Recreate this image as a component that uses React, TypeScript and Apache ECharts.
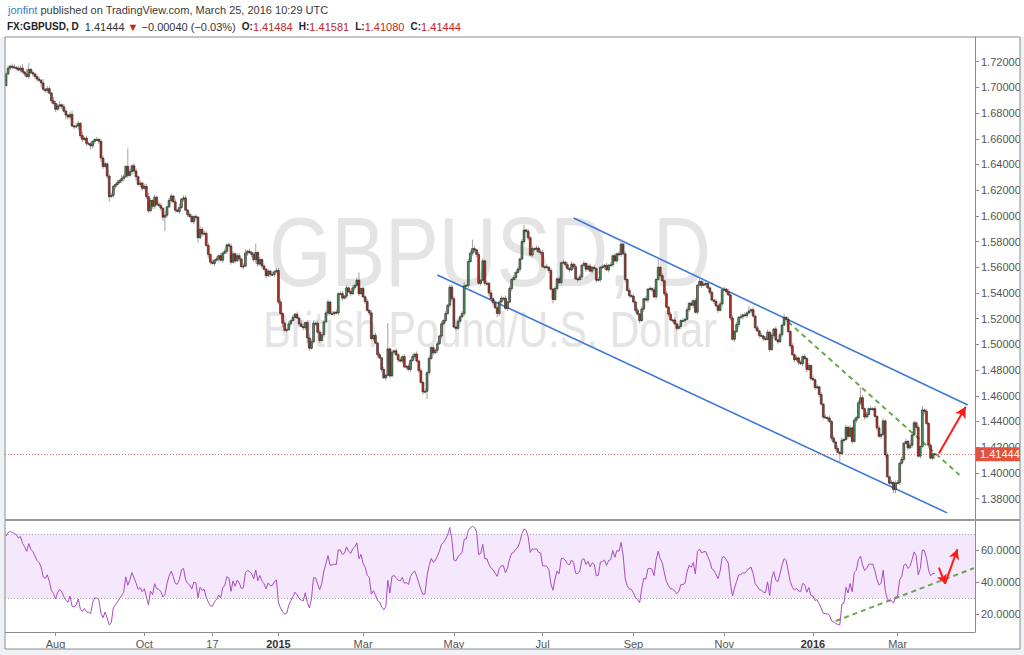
import React, { useEffect, useRef } from "react";
import * as echarts from "echarts";

// ---------- DATA (daily closes, GBPUSD) ----------
const firstOpen = 1.7015;
const rsiWarmupJun2014 = [1.686, 1.682, 1.686, 1.697, 1.6935, 1.6965, 1.7, 1.6975, 1.701, 1.696, 1.7005, 1.6975, 1.7015, 1.699];

const closesJun2014 = [1.7105];
const closesJul2014 = [1.715, 1.7165, 1.716, 1.7155, 1.715, 1.7135, 1.715, 1.712, 1.7105, 1.7085, 1.714, 1.7115, 1.7105, 1.7085, 1.7065, 1.7055, 1.7035, 1.6985, 1.6975, 1.699, 1.6955, 1.6895, 1.6875];
const closesAug2014 = [1.683, 1.6855, 1.6865, 1.685, 1.6815, 1.6785, 1.677, 1.679, 1.67, 1.6695, 1.67, 1.672, 1.6625, 1.6595, 1.6605, 1.6565, 1.656, 1.6545, 1.658, 1.6595, 1.6595];
const closesSep2014 = [1.658, 1.645, 1.6385, 1.6405, 1.631, 1.615, 1.616, 1.623, 1.6245, 1.626, 1.6275, 1.629, 1.6305, 1.6385, 1.6315, 1.6345, 1.639, 1.635, 1.6305, 1.6245, 1.6255, 1.6215];
const closesOct2014 = [1.623, 1.615, 1.604, 1.612, 1.6075, 1.6145, 1.609, 1.608, 1.606, 1.599, 1.6005, 1.607, 1.612, 1.6155, 1.611, 1.6045, 1.6035, 1.6065, 1.613, 1.614, 1.6045, 1.601, 1.5995];
const closesNov2014 = [1.5955, 1.5995, 1.599, 1.583, 1.5895, 1.586, 1.5865, 1.577, 1.57, 1.564, 1.563, 1.5655, 1.5665, 1.569, 1.5655, 1.571, 1.5725, 1.5775, 1.5765, 1.564];
const closesDec2014 = [1.5705, 1.565, 1.569, 1.5665, 1.5605, 1.561, 1.571, 1.5725, 1.5715, 1.57, 1.566, 1.5715, 1.5625, 1.566, 1.561, 1.5585, 1.5535, 1.557, 1.5545, 1.5545, 1.5565, 1.5575];
const closesJan2015 = [1.533, 1.524, 1.5165, 1.511, 1.5115, 1.516, 1.5185, 1.521, 1.5235, 1.5205, 1.516, 1.514, 1.513, 1.517, 1.505, 1.497, 1.502, 1.5165, 1.5165, 1.5095, 1.503];
const closesFeb2015 = [1.5075, 1.5175, 1.5245, 1.533, 1.524, 1.524, 1.525, 1.5245, 1.5395, 1.5395, 1.536, 1.5375, 1.544, 1.541, 1.5395, 1.544, 1.546, 1.55, 1.5395, 1.5435];
const closesMar2015 = [1.537, 1.5335, 1.5265, 1.5245, 1.5045, 1.507, 1.501, 1.492, 1.4895, 1.4805, 1.474, 1.476, 1.4965, 1.4755, 1.494, 1.495, 1.492, 1.488, 1.487, 1.4905, 1.4825, 1.483];
const closesApr2015 = [1.4805, 1.4875, 1.4905, 1.4925, 1.487, 1.4795, 1.4705, 1.463, 1.4635, 1.478, 1.489, 1.4975, 1.4935, 1.4955, 1.5005, 1.5065, 1.516, 1.5185, 1.524, 1.5305, 1.5445, 1.5355];
const closesMay2015 = [1.5135, 1.5125, 1.518, 1.5215, 1.524, 1.5455, 1.546, 1.5645, 1.571, 1.5745, 1.5735, 1.57, 1.5475, 1.55, 1.565, 1.5475, 1.5475, 1.54, 1.5355, 1.5325, 1.5285];
const closesJun2015 = [1.524, 1.533, 1.536, 1.536, 1.528, 1.533, 1.5435, 1.5505, 1.552, 1.556, 1.5585, 1.5665, 1.58, 1.589, 1.588, 1.583, 1.5695, 1.5745, 1.574, 1.575, 1.572, 1.5715];
const closesJul2015 = [1.5605, 1.5605, 1.56, 1.5575, 1.543, 1.535, 1.5435, 1.551, 1.548, 1.5635, 1.564, 1.562, 1.559, 1.558, 1.5625, 1.5605, 1.551, 1.5505, 1.5525, 1.5615, 1.563, 1.5585, 1.561];
const closesAug2015 = [1.557, 1.56, 1.559, 1.55, 1.5505, 1.56, 1.5605, 1.5615, 1.558, 1.5615, 1.562, 1.569, 1.565, 1.5705, 1.57, 1.578, 1.5705, 1.5505, 1.542, 1.538, 1.5375];
const closesSep2015 = [1.533, 1.5265, 1.5235, 1.5185, 1.5275, 1.5355, 1.5345, 1.543, 1.5435, 1.5425, 1.537, 1.5505, 1.56, 1.5535, 1.5495, 1.5395, 1.529, 1.5235, 1.519, 1.519, 1.516, 1.5125];
const closesOct2015 = [1.514, 1.5185, 1.5185, 1.5195, 1.527, 1.532, 1.5305, 1.534, 1.525, 1.546, 1.549, 1.546, 1.547, 1.5475, 1.544, 1.5405, 1.5345, 1.5335, 1.53, 1.5265, 1.5315, 1.5425];
const closesNov2015 = [1.543, 1.541, 1.5385, 1.5205, 1.504, 1.51, 1.5155, 1.521, 1.5215, 1.523, 1.5225, 1.5245, 1.526, 1.527, 1.522, 1.513, 1.5105, 1.507, 1.5065, 1.5045, 1.504];
const closesDec2015 = [1.5095, 1.496, 1.507, 1.512, 1.5035, 1.502, 1.5075, 1.515, 1.521, 1.5195, 1.51, 1.499, 1.492, 1.488, 1.4895, 1.486, 1.485, 1.4905, 1.489, 1.4805, 1.4835, 1.4735];
const closesJan2016 = [1.4725, 1.4665, 1.467, 1.461, 1.4535, 1.4435, 1.443, 1.4425, 1.44, 1.427, 1.424, 1.419, 1.416, 1.415, 1.4255, 1.426, 1.4355, 1.4285, 1.435, 1.4245];
const closesFeb2016 = [1.441, 1.443, 1.4545, 1.4585, 1.45, 1.4435, 1.4455, 1.45, 1.45, 1.45, 1.444, 1.435, 1.4285, 1.43, 1.4405, 1.414, 1.397, 1.392, 1.3925, 1.387, 1.392];
const closesMar2016 = [1.3925, 1.4075, 1.4105, 1.423, 1.4245, 1.4195, 1.4215, 1.4295, 1.439, 1.4355, 1.413, 1.4205, 1.449, 1.448, 1.4385, 1.4215, 1.4115, 1.41484, 1.41444];
const lastBarOHLC = [1.41484, 1.41581, 1.4108, 1.41444];

// wick lengths per bar, one base-36 digit each, in units of 10 pips
const upperWicks = [
  "1",
  "21221 22314 51212 21312 213",
  "22312 21231 22131 21211 2",
  "12221 22112 1321e 21221 21",
  "22321 21221 31221 21312 212",
  "21213 22221 21212 12122",
  "21221 23121 27121 21212 12",
  "22121 21212 13212 32212 2",
  "21221 21212 21212 21261",
  "21212 12121 21k12 12121 21",
  "21212 12121 21212 12121 22",
  "21212 31227 21212 12121 2",
  "21212 12121 21241 21212 12",
  "21212 12121 21212 12121 212",
  "21212 12121 21212 41212 1",
  "21212 12121 21612 12121 21",
  "21212 12121 21212 12121 21",
  "21212 12121 21412 12121 2",
  "21212 12131 21212 12121 21",
  "21212 12121 21212 12121",
  "21282 12121 21212 12121 2",
  "21212 12121 21312 1211",
];
const lowerWicks = [
  "1",
  "12212 12121 21222 13122 121",
  "21221 32212 13221 21322 1",
  "23212 41221 12212 12231 22",
  "12212 21123 b2121 21212 121",
  "12241 21132 12121 21212",
  "12121 21212 23212 12121 21",
  "21312 12121 21224 21121 2",
  "12121 12121 21212 12121",
  "12121 21212 12121 21212 12",
  "12121 21216 21212 12121 22",
  "12121 21212 22121 21212 1",
  "32121 21212 12121 21212 12",
  "12121 31212 12121 21212 121",
  "12121 21212 12121 21212 1",
  "12121 21212 12121 21212 12",
  "12121 21212 12121 21212 12",
  "12121 21212 12121 21212 1",
  "12121 21212 12121 21212 12",
  "12121 21212 12171 21212",
  "12121 21212 12121 21213 3",
  "12121 21212 12121 2124",
];

const priceTickValues = [1.38, 1.4, 1.42, 1.44, 1.46, 1.48, 1.5, 1.52, 1.54, 1.56, 1.58, 1.6, 1.62, 1.64, 1.66, 1.68, 1.7, 1.72];
const rsiTickValues = [20, 40, 60];
const timeLabels = [
  ["2014-08-01", "Aug"], ["2014-10-01", "Oct"], ["2014-11-17", "17"], ["2015-01-02", "2015"],
  ["2015-03-02", "Mar"], ["2015-05-01", "May"], ["2015-07-01", "Jul"], ["2015-09-01", "Sep"],
  ["2015-11-02", "Nov"], ["2016-01-04", "2016"], ["2016-03-01", "Mar"],
];
// drawings: [bar index, value]
const channelUpper = [[274.7, 1.5984], [466.1, 1.4528]];
const channelLower = [[209.3, 1.554], [456.4, 1.3689]];
const priceTrendGreen = [[379.3, 1.5174], [462.2, 1.3984]];
const priceArrowRed = [[452.0, 1.415], [465.1, 1.4515]];
const rsiTrendGreen = [[401.6, 15.6], [468.5, 48.7]];
const rsiArrowDown = [[451.8, 49.0], [454.9, 39.0]];
const rsiArrowUp = [[455.0, 39.0], [460.7, 60.5]];
const futureSlots = 19;

// ---------- BUILD ----------
const monthCloses = [
  closesJun2014, closesJul2014, closesAug2014, closesSep2014, closesOct2014, closesNov2014, closesDec2014,
  closesJan2015, closesFeb2015, closesMar2015, closesApr2015, closesMay2015, closesJun2015, closesJul2015,
  closesAug2015, closesSep2015, closesOct2015, closesNov2015, closesDec2015,
  closesJan2016, closesFeb2016, closesMar2016,
];
const closes: number[] = ([] as number[]).concat(...monthCloses);
const upDigits = upperWicks.join("").replace(/\s/g, "").split("");
const loDigits = lowerWicks.join("").replace(/\s/g, "").split("");

function buildDates(count: number) {
  const out: string[] = [];
  const d = new Date(Date.UTC(2014, 5, 30));
  while (out.length < count) {
    const wd = d.getUTCDay();
    const m = d.getUTCMonth();
    const day = d.getUTCDate();
    const holiday = (m === 11 && day === 25) || (m === 0 && day === 1);
    if (wd !== 0 && wd !== 6 && !holiday) out.push(d.toISOString().slice(0, 10));
    d.setUTCDate(day + 1);
  }
  return out;
}
const dates = buildDates(closes.length + futureSlots);

const candles = closes.map((c, i) => {
  if (i === closes.length - 1) {
    const [o, h, l, cc] = lastBarOHLC;
    return [i, o, cc, l, h];
  }
  const o = i === 0 ? firstOpen : closes[i - 1];
  const u = parseInt(upDigits[i] || "1", 36) * 0.001;
  const lw = parseInt(loDigits[i] || "1", 36) * 0.001;
  return [i, o, c, Math.min(o, c) - lw, Math.max(o, c) + u];
});

function wilderRsi(series: number[], period: number) {
  const out: (number | null)[] = [null];
  let ag = 0;
  let al = 0;
  for (let i = 1; i < series.length; i++) {
    const ch = series[i] - series[i - 1];
    const g = Math.max(ch, 0);
    const l = Math.max(-ch, 0);
    if (i <= period) {
      ag += g / period;
      al += l / period;
      if (i < period) { out.push(null); continue; }
    } else {
      ag = (ag * (period - 1) + g) / period;
      al = (al * (period - 1) + l) / period;
    }
    out.push(al === 0 ? 100 : 100 - 100 / (1 + ag / al));
  }
  return out;
}
const rsiValues = wilderRsi([...rsiWarmupJun2014, ...closes], 14).slice(rsiWarmupJun2014.length);

const labelMap: Record<string, string> = {};
timeLabels.forEach(([d, t]) => { labelMap[d] = t; });

const FONT = "Liberation Sans, Arial, sans-serif";
const seg = (pts: number[][]) => [{ coord: pts[0] }, { coord: pts[1] }];
const redArrow = (pts: number[][], size: number[]) => [
  { ...seg(pts)[0], symbol: "none", lineStyle: { color: "#ff1a1a", width: 2, type: "solid" } },
  { ...seg(pts)[1], symbol: "arrow", symbolSize: size },
];

const option: any = {
  animation: false,
  backgroundColor: "#ffffff",
  textStyle: { fontFamily: FONT },
  grid: [
    { left: 5, right: 49, top: 37, height: 482 },
    { left: 5, right: 49, top: 521, height: 111 },
  ],
  xAxis: [
    {
      type: "category", gridIndex: 0, data: dates, boundaryGap: true,
      axisLine: { show: false }, axisTick: { show: false }, axisLabel: { show: false }, splitLine: { show: false },
    },
    {
      type: "category", gridIndex: 1, data: dates, boundaryGap: true,
      axisLine: { show: true, lineStyle: { color: "#8c8c8c" } },
      axisTick: {
        show: true, alignWithLabel: true, length: 4, lineStyle: { color: "#8c8c8c" },
        interval: (_i: number, v: string) => !!labelMap[v],
      },
      axisLabel: {
        interval: (_i: number, v: string) => !!labelMap[v],
        formatter: (v: string) => {
          const t = labelMap[v] || "";
          return /^\d{4}$/.test(t) ? `{b|${t}}` : t;
        },
        color: "#555", fontSize: 11, margin: 6, fontFamily: FONT,
        rich: { b: { fontWeight: "bold", color: "#333", fontSize: 11, fontFamily: FONT } },
      },
      splitLine: { show: false },
    },
  ],
  yAxis: [
    {
      type: "value", gridIndex: 0, position: "right", min: 1.36412, max: 1.73922,
      axisLine: { show: true, lineStyle: { color: "#8c8c8c" } },
      axisTick: { show: true, customValues: priceTickValues, length: 4, lineStyle: { color: "#8c8c8c" } },
      axisLabel: {
        customValues: priceTickValues, formatter: (v: number) => v.toFixed(5),
        color: "#555", fontSize: 11, margin: 6, fontFamily: FONT,
      },
      splitLine: { show: false },
    },
    {
      type: "value", gridIndex: 1, position: "right", min: 8.75, max: 78.125,
      axisLine: { show: true, lineStyle: { color: "#8c8c8c" } },
      axisTick: { show: true, customValues: rsiTickValues, length: 4, lineStyle: { color: "#8c8c8c" } },
      axisLabel: {
        customValues: rsiTickValues, formatter: (v: number) => v.toFixed(4),
        color: "#555", fontSize: 11, margin: 6, fontFamily: FONT,
      },
      splitLine: { show: false },
    },
  ],
  series: [
    {
      type: "custom", name: "GBPUSD", xAxisIndex: 0, yAxisIndex: 0, clip: true,
      data: candles, encode: { x: 0, y: [1, 2, 3, 4] }, z: 5,
      renderItem: (_p: any, api: any) => {
        const x = api.value(0);
        const o = api.value(1);
        const c = api.value(2);
        const l = api.value(3);
        const h = api.value(4);
        const pO = api.coord([x, o]);
        const pC = api.coord([x, c]);
        const pL = api.coord([x, l]);
        const pH = api.coord([x, h]);
        const w = api.size([1, 0])[0] * 0.9;
        const top = Math.min(pO[1], pC[1]);
        const bh = Math.max(Math.abs(pO[1] - pC[1]), 1);
        const up = c >= o;
        return {
          type: "group",
          children: [
            { type: "line", shape: { x1: pO[0], y1: pH[1], x2: pO[0], y2: pL[1] }, style: { stroke: "#a3a3a3", lineWidth: 1 } },
            { type: "rect", shape: { x: pO[0] - w / 2, y: top, width: w, height: bh },
              style: { fill: up ? "#4b9464" : "#b5352a", stroke: "#2a1d1a", lineWidth: 0.6 } },
          ],
        };
      },
    },
    {
      // carrier for the price pane drawings
      type: "line", name: "drawings", xAxisIndex: 0, yAxisIndex: 0,
      data: closes.map(() => null), showSymbol: false, symbol: "none", lineStyle: { width: 0 }, z: 6,
      markLine: {
        silent: true, symbol: ["none", "none"], precision: 5,
        label: { show: false },
        data: [
          [{ ...seg(channelUpper)[0], lineStyle: { color: "#3b78d8", width: 1.6, type: "solid" } }, seg(channelUpper)[1]],
          [{ ...seg(channelLower)[0], lineStyle: { color: "#3b78d8", width: 1.6, type: "solid" } }, seg(channelLower)[1]],
          [{ ...seg(priceTrendGreen)[0], lineStyle: { color: "#6aa84f", width: 2, type: [5, 4] } }, seg(priceTrendGreen)[1]],
          redArrow(priceArrowRed, [9, 11]),
          {
            yAxis: lastBarOHLC[3],
            lineStyle: { color: "#e57373", width: 1, type: [1, 2] },
            label: {
              show: true, position: "end", distance: 1, formatter: lastBarOHLC[3].toFixed(5),
              backgroundColor: "#e2533f", color: "#ffffff", fontSize: 11, padding: [2, 4, 1, 4], fontFamily: FONT,
            },
          },
        ],
      },
    },
    {
      type: "line", name: "RSI", xAxisIndex: 1, yAxisIndex: 1, data: rsiValues,
      showSymbol: false, symbol: "none", lineStyle: { color: "#a64dc1", width: 1 }, z: 5,
      markArea: {
        silent: true,
        itemStyle: { color: "#f5e7fc" },
        data: [[{ yAxis: 30 }, { yAxis: 70 }]],
      },
      markLine: {
        silent: true, symbol: ["none", "none"], label: { show: false }, precision: 4,
        data: [
          { yAxis: 70, lineStyle: { color: "#b3a8bb", width: 1, type: [1, 2] } },
          { yAxis: 30, lineStyle: { color: "#b3a8bb", width: 1, type: [1, 2] } },
          [{ ...seg(rsiTrendGreen)[0], lineStyle: { color: "#6aa84f", width: 2, type: [5, 4] } }, seg(rsiTrendGreen)[1]],
          redArrow(rsiArrowDown, [8, 9]),
          redArrow(rsiArrowUp, [8, 10]),
        ],
      },
    },
  ],
  graphic: [
    // watermark
    {
      type: "text", z: 0, x: 490, y: 203, scaleX: 0.82,
      style: { text: "GBPUSD, D", fill: "#e4e4e4", font: `98px ${FONT}`, textAlign: "center", textVerticalAlign: "top" },
    },
    {
      type: "text", z: 0, x: 490, y: 305, scaleX: 0.82,
      style: { text: "British Pound/U.S. Dollar", fill: "#e4e4e4", font: `50px ${FONT}`, textAlign: "center", textVerticalAlign: "top" },
    },
    // outer light frame
    { type: "rect", z: 60, shape: { x: 0, y: 37, width: 5, height: 618 }, style: { fill: "#eef1f5" } },
    { type: "rect", z: 60, shape: { x: 1020, y: 37, width: 4, height: 618 }, style: { fill: "#eef1f5" } },
    { type: "rect", z: 60, shape: { x: 0, y: 649, width: 1024, height: 6 }, style: { fill: "#eef1f5" } },
    { type: "rect", z: 61, shape: { x: 5, y: 37, width: 1015, height: 612 }, style: { fill: "none", stroke: "#8c8c8c", lineWidth: 1 } },
    { type: "rect", z: 61, shape: { x: 5, y: 519, width: 1015, height: 2 }, style: { fill: "#9a9a9a" } },
    // header
    {
      type: "text", z: 62, left: 8, top: 4,
      style: {
        text: "{u|jonfint}{t| published on TradingView.com, March 25, 2016 10:29 UTC}",
        rich: {
          u: { fill: "#2d7fd3", font: `11px ${FONT}` },
          t: { fill: "#3a3a3a", font: `11px ${FONT}` },
        },
      },
    },
    {
      type: "text", z: 62, left: 7, top: 21,
      style: {
        text: "{b|FX:GBPUSD, D}{t|  1.41444 }{r|▼}{t| −0.00040 (−0.03%)  }{b|O:}{r|1.41484}{t|  }{b|H:}{r|1.41581}{t|  }{b|L:}{r|1.41080}{t|  }{b|C:}{r|1.41444}",
        rich: {
          b: { fill: "#222", font: `bold 10px ${FONT}` },
          t: { fill: "#333", font: `11px ${FONT}` },
          r: { fill: "#c0261e", font: `11px ${FONT}` },
        },
      },
    },
  ],
};

export default function App() {
  const ref = useRef<HTMLDivElement>(null);
  useEffect(() => {
    const chart = echarts.init(ref.current as HTMLDivElement, null, { renderer: "svg" });
    chart.setOption(option);
    return () => chart.dispose();
  }, []);
  return (
    <div
      ref={ref}
      style={{ position: "fixed", left: 0, top: 0, width: 1024, height: 655, background: "#ffffff" }}
    />
  );
}
